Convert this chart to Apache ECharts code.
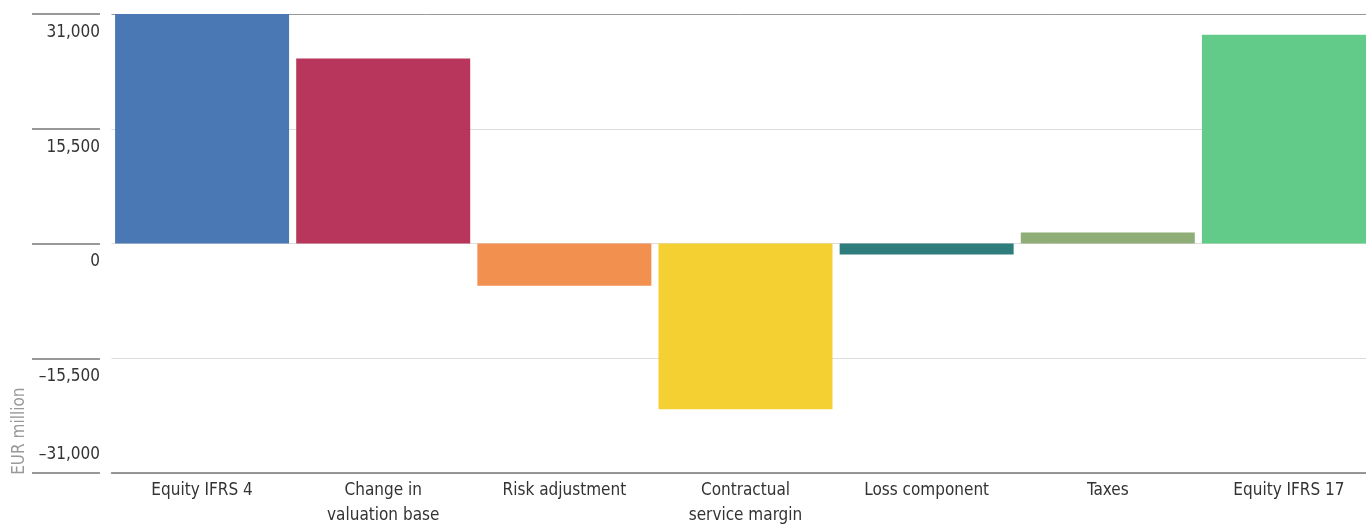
<!DOCTYPE html>
<html>
  <head>
    <meta http-equiv="Content-Type" content="text/html; charset=utf-8" />
    <title>index.html</title>
    <style type="text/css">
      html,body{margin:0;padding:0;background:#fff;}
      #chart1{width:1366px;height:525px;}
    </style>
    <script type="text/javascript" src="https://cdn.jsdelivr.net/npm/echarts@6/dist/echarts.min.js"></script>
  </head>
  <body>
    <div id="chart1"></div>
  </body>
  <script type="text/javascript">
    // categories (x axis)
    var categories = ['Equity IFRS 4', 'Change in\nvaluation base', 'Risk adjustment', 'Contractual\nservice margin', 'Loss component', 'Taxes', 'Equity IFRS 17'];
    // values in EUR million
    var values = [31000, 25000, -5700, -22400, -1500, 1500, 28200];
    // y axis ticks
    var yTicks = [-31000, -15500, 0, 15500, 31000];
    var palette = ['#4a78b4', '#b8365b', '#f2904f', '#f5d033', '#2f7c7c', '#8fae77', '#62cb89'];

    var font = "'Liberation Sans Narrow', 'DejaVu Sans Condensed', 'Roboto', sans-serif";

    function fmt(v) {
      var s = Math.abs(v).toString().replace(/\B(?=(\d{3})+(?!\d))/g, ',');
      return v < 0 ? '\u2013' + s : s;
    }

    var myChart = echarts.init(document.getElementById('chart1'));

    myChart.setOption({
      animation: false,
      textStyle: { fontFamily: font },
      grid: {
        left: 111.5,
        top: 14,
        bottom: 52,
        width: 1268,
        containLabel: false,
        outerBoundsMode: 'none'
      },
      xAxis: {
        type: 'category',
        data: categories,
        axisTick: { show: false },
        axisLine: { onZero: false, lineStyle: { color: '#777', width: 1.5 } },
        axisLabel: {
          color: '#333',
          fontSize: 17,
          lineHeight: 25,
          margin: 5,
          interval: 0,
          fontFamily: font
        }
      },
      yAxis: {
        type: 'value',
        min: yTicks[0],
        max: yTicks[yTicks.length - 1],
        interval: 15500,
        offset: 11.5,
        name: 'EUR million',
        nameLocation: 'middle',
        nameGap: 75,
        nameRotate: 90,
        nameTextStyle: {
          color: '#999',
          fontSize: 17,
          fontFamily: font,
          align: 'right',
          verticalAlign: 'middle',
          padding: [0, 144, 0, 0]
        },
        axisLine: { show: false },
        axisTick: { show: true, length: 68, lineStyle: { color: '#777', width: 1.5 } },
        splitLine: {
          lineStyle: { color: ['#ddd', '#ddd', '#ddd', '#ddd', '#999'], width: 1 }
        },
        axisLabel: {
          color: '#333',
          fontSize: 17,
          lineHeight: 37,
          margin: 0,
          verticalAlign: 'top',
          verticalAlignMinLabel: 'bottom',
          fontFamily: font,
          formatter: function (v) { return fmt(v); }
        }
      },
      series: [{
        type: 'bar',
        barWidth: 174,
        data: values.map(function (v, i) {
          return { value: v, itemStyle: { color: palette[i] } };
        })
      }]
    });
  </script>
</html>
